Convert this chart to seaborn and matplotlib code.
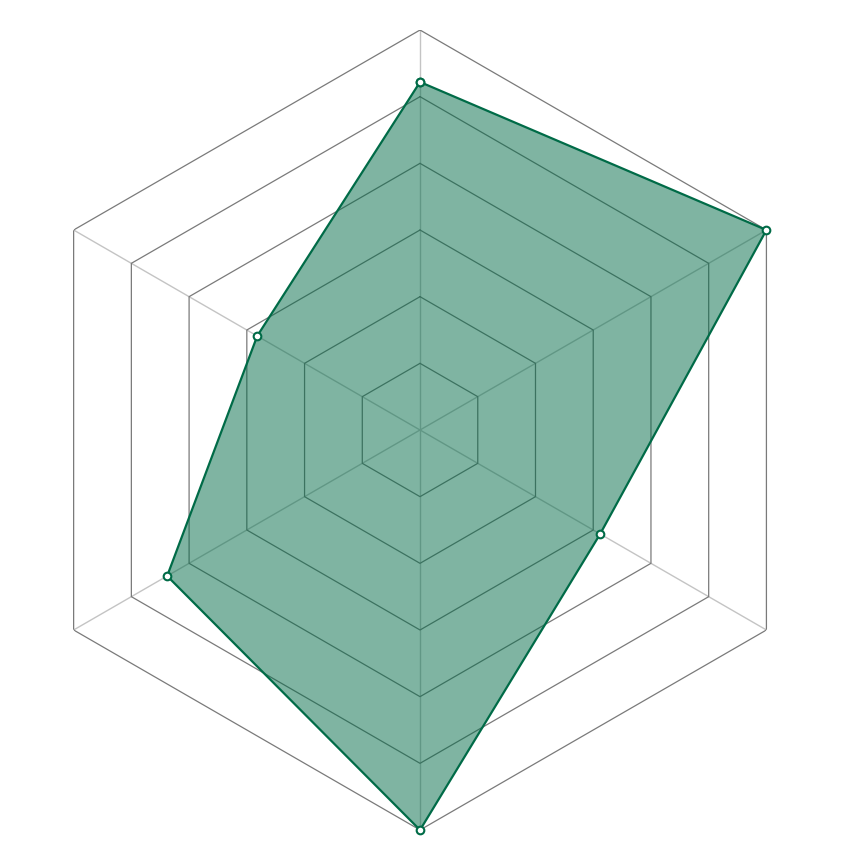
import numpy as np
import pandas as pd
import seaborn as sns
import matplotlib
matplotlib.use("Agg")
import matplotlib.pyplot as plt

# values per axis, clockwise from top (scale 0-100)
axes_names = ["A", "B", "C", "D", "E", "F"]
values = [87, 100, 52, 100, 73, 47]
levels = [100 / 6 * k for k in range(1, 7)]
max_val = 100

green = "#006b47"

sns.set_style("white")
fig = plt.figure(figsize=(8.6, 8.6), dpi=100)
ax = fig.add_axes([0.0233, 0.0349, 0.9302, 0.9302], projection="polar")
ax.set_theta_offset(np.pi / 2)
ax.set_theta_direction(-1)

angles = np.arange(len(axes_names)) * 2 * np.pi / len(axes_names)
closed_angles = np.append(angles, 2 * np.pi)

# spokes
for a in angles:
    ax.plot([a, a], [0, max_val], color="#c4c4c4", lw=1.0, zorder=1)

# hexagon rings
for lv in levels:
    ax.plot(closed_angles, [lv] * len(closed_angles), color="#7a7a7a", lw=0.9, zorder=1)

df = pd.DataFrame({
    "angle": closed_angles,
    "value": values + values[:1],
})

ax.fill(df["angle"], df["value"], color=green, alpha=0.5, lw=0, zorder=2)
sns.lineplot(data=df, x="angle", y="value", sort=False, estimator=None, ax=ax,
             color=green, lw=1.6, marker="o", markersize=5.5,
             markerfacecolor="white", markeredgecolor=green,
             markeredgewidth=1.5, zorder=3, clip_on=False)

ax.set_ylim(0, max_val)
ax.grid(False)
ax.spines["polar"].set_visible(False)
ax.set_xticks([])
ax.set_yticks([])
ax.set_xlabel("")
ax.set_ylabel("")
ax.patch.set_alpha(0)

fig.savefig("out.png", dpi=100)
